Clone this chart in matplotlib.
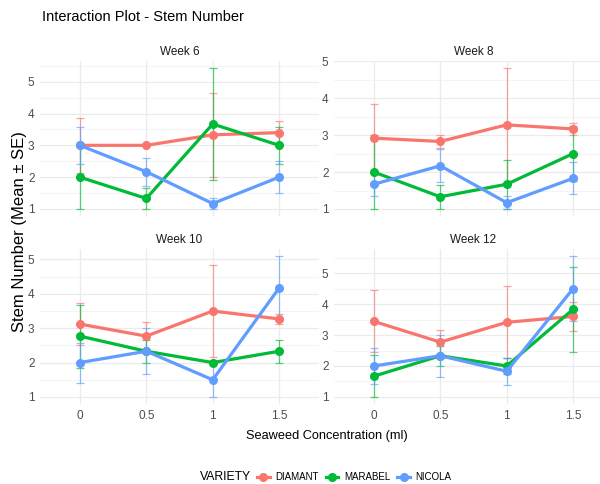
import numpy as np
import matplotlib
matplotlib.use("Agg")
import matplotlib.pyplot as plt
from matplotlib.lines import Line2D
from matplotlib.ticker import MultipleLocator

plt.rcParams['font.family'] = ['Liberation Sans', 'DejaVu Sans']

# data
conc = ["0", "0.5", "1", "1.5"]
weeks = ["Week 6", "Week 8", "Week 10", "Week 12"]
varieties = ["DIAMANT", "MARABEL", "NICOLA"]
colors = ["#F8766D", "#00BA38", "#619CFF"]

diamant_mean = [[3.0, 3.0, 3.33, 3.4], [2.92, 2.83, 3.28, 3.17],
                [3.12, 2.77, 3.5, 3.27], [3.44, 2.77, 3.41, 3.6]]
diamant_se = [[0.87, 0.0, 1.33, 0.38], [0.92, 0.17, 1.54, 0.17],
              [0.61, 0.4, 1.33, 0.15], [1.0, 0.4, 1.16, 0.46]]
marabel_mean = [[2.0, 1.33, 3.67, 3.0], [2.0, 1.33, 1.67, 2.5],
                [2.77, 2.33, 2.0, 2.33], [1.67, 2.33, 2.0, 3.83]]
marabel_se = [[1.0, 0.33, 1.76, 0.58], [1.0, 0.33, 0.67, 0.75],
              [0.92, 0.33, 0.0, 0.33], [0.67, 0.33, 0.25, 1.37]]
nicola_mean = [[3.0, 2.17, 1.17, 2.0], [1.67, 2.17, 1.17, 1.83],
               [2.0, 2.33, 1.5, 4.17], [2.0, 2.33, 1.83, 4.5]]
nicola_se = [[0.58, 0.44, 0.17, 0.5], [0.33, 0.45, 0.17, 0.43],
             [0.58, 0.67, 0.5, 0.93], [0.58, 0.67, 0.43, 1.05]]

means = [diamant_mean, marabel_mean, nicola_mean]
ses = [diamant_se, marabel_se, nicola_se]

W, H = 600, 484
fig = plt.figure(figsize=(W / 100, H / 100), dpi=100)
fig.patch.set_facecolor("white")

# panel boxes in pixels: (left, top, right, bottom)
boxes = [(40, 61, 319, 216), (334, 61, 613, 216),
         (40, 249, 319, 404), (334, 249, 613, 404)]

x = np.arange(len(conc))
for k, week in enumerate(weeks):
    l, t, r, b = boxes[k]
    ax = fig.add_axes([l / W, 1 - b / H, (r - l) / W, (b - t) / H])
    lo, hi = [], []
    for v in range(len(varieties)):
        m = np.array(means[v][k])
        s = np.array(ses[v][k])
        lo.append((m - s).min())
        hi.append((m + s).max())
        ax.errorbar(x, m, yerr=s, fmt="none", ecolor=colors[v], elinewidth=0.9,
                    capsize=2.8, capthick=0.9, alpha=0.65, zorder=2)
        ax.plot(x, m, color=colors[v], lw=2.3, marker="o", ms=5.5,
                solid_capstyle="round", zorder=3 + v)
    ymin, ymax = min(lo), max(hi)
    pad = (ymax - ymin) * 0.05
    ax.set_ylim(ymin - pad, ymax + pad)
    ax.set_xlim(-0.6, len(conc) - 0.4)
    ax.yaxis.set_major_locator(MultipleLocator(1))
    ax.yaxis.set_minor_locator(MultipleLocator(0.5))
    ax.set_xticks(x)
    if k >= 2:
        ax.set_xticklabels(conc)
    else:
        ax.set_xticklabels([])
    ax.grid(True, which="major", color="#EBEBEB", lw=0.9)
    ax.grid(True, which="minor", axis="y", color="#F2F2F2", lw=0.6)
    ax.set_axisbelow(True)
    for sp in ax.spines.values():
        sp.set_visible(False)
    ax.tick_params(which="both", length=0, labelsize=8.5, labelcolor="#4D4D4D",
                   pad=4)
    ax.set_title(week, fontsize=8.5, color="#1A1A1A", pad=4.5)
    ax.set_facecolor("white")

fig.text(42 / W, 1 - 17 / H, "Interaction Plot - Stem Number", fontsize=10.5,
         va="center", ha="left", color="black")
fig.text(20 / W, 1 - 232 / H, "Stem Number (Mean \u00b1 SE)", fontsize=12,
         rotation=90, va="center", ha="center", color="black")
fig.text(327 / W, 1 - 436 / H, "Seaweed Concentration (ml)", fontsize=9.2,
         va="center", ha="center", color="black")

fig.text(200 / W, 1 - 477 / H, "VARIETY", fontsize=8.8, va="center", ha="left")
handles = [Line2D([0], [0], color=c, lw=2.3, marker="o", ms=5.5) for c in colors]
fig.legend(handles, varieties, loc="center left",
           bbox_to_anchor=(257 / W, 1 - 477 / H), ncol=3, frameon=False,
           fontsize=7.0, handlelength=1.3, handletextpad=0.6, columnspacing=0.7,
           borderaxespad=0, borderpad=0)

fig.savefig("out.png", dpi=100, facecolor="white")
